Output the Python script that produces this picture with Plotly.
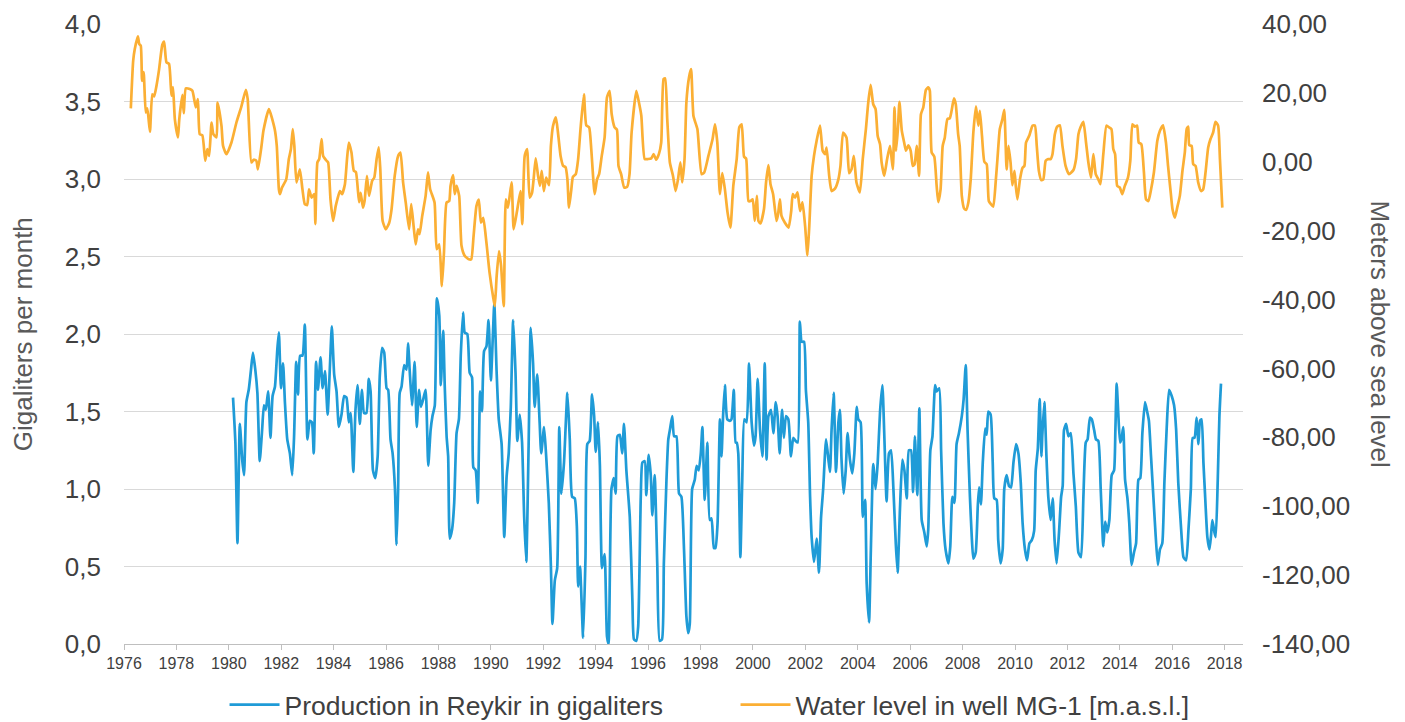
import plotly.graph_objects as go

# ---- Production in Reykir (gigaliters per month), decimal years ----
prod_year = [
    1980.16, 1980.25, 1980.33, 1980.42, 1980.51, 1980.58, 1980.67, 1980.76, 1980.84, 1980.92,
    1981.01, 1981.09, 1981.18, 1981.27, 1981.34, 1981.41, 1981.50, 1981.59, 1981.67, 1981.76,
    1981.85, 1981.91, 1981.99, 1982.07, 1982.14, 1982.23, 1982.33, 1982.42, 1982.49, 1982.57,
    1982.64, 1982.72, 1982.81, 1982.90, 1983.00, 1983.09, 1983.17, 1983.24, 1983.33, 1983.40,
    1983.50, 1983.58, 1983.67, 1983.77, 1983.86, 1983.93, 1984.02, 1984.11, 1984.20, 1984.30,
    1984.40, 1984.49, 1984.58, 1984.65, 1984.75, 1984.83, 1984.91, 1985.00, 1985.08, 1985.16,
    1985.25, 1985.34, 1985.41, 1985.50, 1985.59, 1985.68, 1985.76, 1985.85, 1985.93, 1986.02,
    1986.08, 1986.17, 1986.25, 1986.34, 1986.40, 1986.46, 1986.52, 1986.59, 1986.69, 1986.78,
    1986.84, 1986.90, 1986.99, 1987.09, 1987.17, 1987.26, 1987.33, 1987.42, 1987.51, 1987.61,
    1987.70, 1987.77, 1987.86, 1987.94, 1988.03, 1988.09, 1988.18, 1988.24, 1988.31, 1988.37,
    1988.43, 1988.52, 1988.60, 1988.69, 1988.78, 1988.85, 1988.94, 1989.00, 1989.10, 1989.19,
    1989.28, 1989.33, 1989.42, 1989.50, 1989.59, 1989.66, 1989.74, 1989.83, 1989.91, 1990.00,
    1990.08, 1990.13, 1990.22, 1990.30, 1990.41, 1990.51, 1990.60, 1990.68, 1990.76, 1990.85,
    1990.94, 1991.01, 1991.10, 1991.19, 1991.27, 1991.35, 1991.44, 1991.52, 1991.61, 1991.67,
    1991.77, 1991.86, 1991.92, 1992.03, 1992.11, 1992.21, 1992.29, 1992.35, 1992.44, 1992.53,
    1992.61, 1992.69, 1992.79, 1992.92, 1993.01, 1993.10, 1993.20, 1993.28, 1993.33, 1993.40,
    1993.52, 1993.61, 1993.68, 1993.77, 1993.86, 1993.94, 1994.00, 1994.09, 1994.16, 1994.24,
    1994.34, 1994.43, 1994.49, 1994.60, 1994.69, 1994.76, 1994.83, 1994.92, 1995.01, 1995.08,
    1995.17, 1995.30, 1995.40, 1995.46, 1995.55, 1995.62, 1995.72, 1995.78, 1995.87, 1995.93,
    1996.02, 1996.10, 1996.16, 1996.25, 1996.35, 1996.44, 1996.53, 1996.60, 1996.70, 1996.77,
    1996.84, 1996.92, 1996.99, 1997.08, 1997.18, 1997.27, 1997.37, 1997.46, 1997.53, 1997.59,
    1997.68, 1997.78, 1997.85, 1997.93, 1998.01, 1998.07, 1998.16, 1998.26, 1998.35, 1998.42,
    1998.51, 1998.57, 1998.65, 1998.74, 1998.80, 1998.86, 1998.93, 1999.02, 1999.12, 1999.18,
    1999.27, 1999.34, 1999.38, 1999.44, 1999.52, 1999.59, 1999.67, 1999.76, 1999.85, 1999.95,
    2000.04, 2000.10, 2000.18, 2000.27, 2000.36, 2000.45, 2000.52, 2000.59, 2000.69, 2000.78,
    2000.87, 2000.94, 2001.02, 2001.11, 2001.18, 2001.26, 2001.35, 2001.45, 2001.54, 2001.63,
    2001.71, 2001.79, 2001.86, 2001.95, 2002.02, 2002.11, 2002.18, 2002.24, 2002.33, 2002.43,
    2002.52, 2002.60, 2002.68, 2002.79, 2002.88, 2002.94, 2003.00, 2003.08, 2003.17, 2003.26,
    2003.32, 2003.38, 2003.46, 2003.54, 2003.61, 2003.70, 2003.79, 2003.87, 2003.96, 2004.02,
    2004.11, 2004.19, 2004.28, 2004.34, 2004.43, 2004.50, 2004.59, 2004.68, 2004.76, 2004.85,
    2004.94, 2005.01, 2005.10, 2005.19, 2005.27, 2005.36, 2005.45, 2005.52, 2005.61, 2005.70,
    2005.78, 2005.87, 2005.95, 2006.03, 2006.11, 2006.18, 2006.27, 2006.35, 2006.44, 2006.54,
    2006.63, 2006.69, 2006.77, 2006.85, 2006.95, 2007.01, 2007.11, 2007.18, 2007.27, 2007.35,
    2007.46, 2007.53, 2007.61, 2007.69, 2007.77, 2007.86, 2007.97, 2008.04, 2008.12, 2008.19,
    2008.28, 2008.35, 2008.41, 2008.50, 2008.58, 2008.63, 2008.70, 2008.77, 2008.86, 2008.92,
    2008.98, 2009.07, 2009.15, 2009.21, 2009.30, 2009.36, 2009.45, 2009.53, 2009.59, 2009.68,
    2009.77, 2009.85, 2009.94, 2010.04, 2010.13, 2010.22, 2010.29, 2010.38, 2010.46, 2010.55,
    2010.64, 2010.73, 2010.79, 2010.87, 2010.94, 2011.01, 2011.04, 2011.12, 2011.20, 2011.27,
    2011.36, 2011.44, 2011.51, 2011.59, 2011.68, 2011.76, 2011.82, 2011.87, 2011.95, 2012.04,
    2012.13, 2012.23, 2012.32, 2012.42, 2012.52, 2012.61, 2012.70, 2012.77, 2012.86, 2012.93,
    2013.02, 2013.09, 2013.18, 2013.27, 2013.37, 2013.44, 2013.52, 2013.60, 2013.69, 2013.78,
    2013.83, 2013.88, 2013.94, 2014.01, 2014.07, 2014.13, 2014.20, 2014.29, 2014.36, 2014.45,
    2014.54, 2014.62, 2014.71, 2014.78, 2014.86, 2014.96, 2015.04, 2015.11, 2015.19, 2015.28,
    2015.36, 2015.45, 2015.53, 2015.62, 2015.70, 2015.79, 2015.88, 2015.98, 2016.07, 2016.15,
    2016.23, 2016.34, 2016.43, 2016.53, 2016.62, 2016.71, 2016.78, 2016.85, 2016.93, 2017.00,
    2017.06, 2017.12, 2017.19, 2017.25, 2017.34, 2017.42, 2017.48, 2017.53, 2017.61, 2017.66,
    2017.74, 2017.80, 2017.86,
]
prod_gl = [
    1.59, 1.30, 0.65, 1.42, 1.19, 1.09, 1.56, 1.64, 1.76, 1.88,
    1.77, 1.62, 1.18, 1.38, 1.54, 1.51, 1.63, 1.33, 1.60, 1.66,
    1.90, 2.01, 1.65, 1.81, 1.56, 1.32, 1.23, 1.09, 1.34, 1.82,
    1.61, 1.86, 1.86, 2.06, 1.32, 1.44, 1.43, 1.23, 1.82, 1.64,
    1.85, 1.65, 1.76, 1.48, 1.80, 2.05, 1.74, 1.63, 1.40, 1.48,
    1.60, 1.59, 1.43, 1.49, 1.11, 1.50, 1.67, 1.42, 1.64, 1.49,
    1.49, 1.71, 1.63, 1.12, 1.07, 1.21, 1.73, 1.91, 1.88, 1.65,
    1.64, 1.32, 1.23, 1.00, 0.64, 1.00, 1.62, 1.66, 1.80, 1.77,
    1.94, 1.77, 1.54, 1.82, 1.40, 1.64, 1.53, 1.58, 1.64, 1.15,
    1.38, 1.47, 1.54, 2.23, 2.12, 1.67, 2.02, 1.66, 1.34, 1.21,
    0.68, 0.74, 0.91, 1.36, 1.45, 1.86, 2.14, 2.01, 2.00, 1.75,
    1.72, 1.14, 1.12, 0.91, 1.63, 1.50, 1.89, 1.92, 2.09, 1.70,
    2.01, 2.20, 1.75, 1.45, 1.29, 0.69, 1.08, 1.23, 1.53, 2.09,
    1.75, 1.31, 1.48, 1.30, 0.82, 0.53, 1.28, 2.04, 1.81, 1.53,
    1.74, 1.43, 1.23, 1.40, 1.21, 0.91, 0.50, 0.13, 0.41, 0.49,
    1.40, 0.97, 1.17, 1.62, 1.32, 0.95, 0.94, 0.76, 0.37, 0.50,
    0.04, 0.56, 1.29, 1.31, 1.61, 1.47, 1.24, 1.43, 1.15, 0.49,
    0.58, 0.05, 0.00, 1.00, 1.07, 0.97, 1.34, 1.35, 1.23, 1.42,
    1.12, 0.82, 0.28, 0.03, 0.02, 0.11, 0.95, 1.17, 1.18, 0.96,
    1.22, 1.09, 0.83, 1.09, 0.51, 0.02, 0.03, 0.52, 1.06, 1.32,
    1.39, 1.47, 1.34, 1.34, 0.97, 0.95, 0.61, 0.18, 0.07, 0.13,
    1.00, 1.06, 1.15, 1.12, 1.23, 1.40, 0.93, 1.30, 0.80, 0.81,
    0.62, 0.62, 0.78, 1.45, 1.21, 1.47, 1.67, 1.45, 1.44, 1.45,
    1.64, 1.30, 1.30, 1.23, 0.56, 1.04, 1.45, 1.43, 1.81, 1.43,
    1.28, 1.34, 1.71, 1.38, 1.21, 1.81, 1.19, 1.47, 1.51, 1.36,
    1.56, 1.47, 1.23, 1.51, 1.33, 1.47, 1.45, 1.21, 1.33, 1.31,
    1.30, 2.08, 1.95, 1.95, 1.64, 1.43, 0.95, 0.69, 0.53, 0.68,
    0.46, 0.82, 1.00, 1.32, 1.19, 1.11, 1.38, 1.62, 1.11, 1.43,
    1.51, 1.19, 0.97, 1.12, 1.36, 1.19, 1.10, 1.23, 1.53, 1.45,
    1.43, 0.82, 0.93, 0.39, 0.14, 0.61, 1.16, 1.00, 1.17, 1.50,
    1.67, 1.36, 0.92, 1.23, 1.25, 1.00, 0.65, 0.46, 0.87, 1.19,
    1.12, 0.94, 1.25, 1.25, 0.98, 1.34, 0.96, 1.52, 0.80, 0.72,
    0.63, 0.74, 1.25, 1.34, 1.67, 1.63, 1.65, 1.25, 0.78, 0.61,
    0.52, 0.63, 0.95, 0.91, 1.29, 1.36, 1.47, 1.58, 1.80, 1.38,
    0.95, 0.69, 0.55, 0.59, 0.89, 1.01, 0.90, 1.17, 1.39, 1.35,
    1.50, 1.48, 1.17, 0.94, 0.93, 0.67, 0.52, 0.61, 1.00, 1.09,
    1.02, 1.01, 1.17, 1.29, 1.23, 1.04, 0.78, 0.61, 0.54, 0.65,
    0.67, 0.73, 1.12, 1.26, 1.58, 1.21, 1.34, 1.56, 1.21, 0.95,
    0.80, 0.94, 0.67, 0.52, 0.72, 0.95, 1.02, 1.38, 1.42, 1.34,
    1.36, 1.10, 0.89, 0.59, 0.56, 0.95, 1.30, 1.32, 1.46, 1.45,
    1.38, 1.32, 1.31, 1.00, 0.63, 0.79, 0.72, 0.80, 1.09, 1.12,
    1.38, 1.68, 1.49, 1.30, 1.33, 1.40, 1.06, 0.94, 0.78, 0.51,
    0.59, 0.65, 1.06, 1.07, 1.36, 1.56, 1.50, 1.44, 1.21, 0.95,
    0.72, 0.51, 0.61, 0.65, 1.04, 1.40, 1.64, 1.60, 1.54, 1.38,
    1.04, 0.74, 0.56, 0.54, 0.74, 1.00, 1.33, 1.33, 1.46, 1.29,
    1.44, 1.45, 1.17, 0.97, 0.69, 0.61, 0.70, 0.80, 0.72, 0.69,
    1.08, 1.47, 1.68,
]

# ---- Water level in well MG-1 (m a.s.l.), decimal years ----
level_year = [
    1976.26, 1976.35, 1976.41, 1976.53, 1976.58, 1976.64, 1976.69, 1976.75, 1976.83, 1976.89,
    1976.99, 1977.08, 1977.15, 1977.24, 1977.34, 1977.46, 1977.53, 1977.62, 1977.72, 1977.81,
    1977.87, 1977.94, 1978.06, 1978.11, 1978.23, 1978.28, 1978.36, 1978.51, 1978.61, 1978.74,
    1978.82, 1978.89, 1978.99, 1979.10, 1979.18, 1979.25, 1979.34, 1979.41, 1979.53, 1979.57,
    1979.72, 1979.78, 1979.91, 1980.10, 1980.29, 1980.48, 1980.65, 1980.72, 1980.86, 1980.95,
    1981.05, 1981.11, 1981.24, 1981.32, 1981.53, 1981.75, 1981.83, 1981.91, 1981.95, 1982.03,
    1982.19, 1982.29, 1982.37, 1982.44, 1982.50, 1982.58, 1982.71, 1982.81, 1982.90, 1982.99,
    1983.06, 1983.16, 1983.26, 1983.30, 1983.38, 1983.45, 1983.54, 1983.60, 1983.73, 1983.79,
    1983.88, 1983.98, 1984.08, 1984.24, 1984.32, 1984.43, 1984.51, 1984.58, 1984.68, 1984.77,
    1984.85, 1984.97, 1985.03, 1985.12, 1985.18, 1985.27, 1985.35, 1985.47, 1985.55, 1985.64,
    1985.72, 1985.78, 1985.87, 1985.99, 1986.12, 1986.21, 1986.33, 1986.46, 1986.55, 1986.65,
    1986.75, 1986.88, 1986.96, 1987.05, 1987.13, 1987.22, 1987.28, 1987.38, 1987.51, 1987.60,
    1987.68, 1987.85, 1987.93, 1988.03, 1988.13, 1988.21, 1988.31, 1988.41, 1988.46, 1988.56,
    1988.62, 1988.69, 1988.79, 1988.88, 1989.00, 1989.16, 1989.25, 1989.34, 1989.45, 1989.54,
    1989.62, 1989.71, 1989.83, 1989.95, 1990.09, 1990.15, 1990.22, 1990.31, 1990.39, 1990.49,
    1990.57, 1990.65, 1990.79, 1990.87, 1991.00, 1991.13, 1991.20, 1991.29, 1991.38, 1991.48,
    1991.57, 1991.63, 1991.71, 1991.80, 1991.87, 1991.94, 1992.02, 1992.11, 1992.22, 1992.29,
    1992.37, 1992.48, 1992.56, 1992.66, 1992.76, 1992.85, 1992.92, 1992.98, 1993.07, 1993.13,
    1993.24, 1993.33, 1993.42, 1993.55, 1993.64, 1993.75, 1993.83, 1993.96, 1994.05, 1994.13,
    1994.23, 1994.34, 1994.43, 1994.53, 1994.61, 1994.72, 1994.81, 1994.87, 1994.97, 1995.09,
    1995.20, 1995.29, 1995.37, 1995.55, 1995.65, 1995.74, 1995.87, 1996.00, 1996.12, 1996.21,
    1996.31, 1996.41, 1996.50, 1996.59, 1996.65, 1996.73, 1996.83, 1996.95, 1997.05, 1997.14,
    1997.23, 1997.30, 1997.39, 1997.46, 1997.56, 1997.64, 1997.73, 1997.88, 1998.04, 1998.14,
    1998.30, 1998.46, 1998.55, 1998.64, 1998.74, 1998.83, 1998.93, 1999.03, 1999.14, 1999.25,
    1999.38, 1999.48, 1999.57, 1999.66, 1999.74, 1999.83, 1999.91, 1999.99, 2000.07, 2000.15,
    2000.21, 2000.29, 2000.42, 2000.50, 2000.59, 2000.67, 2000.77, 2000.90, 2000.96, 2001.03,
    2001.09, 2001.22, 2001.36, 2001.46, 2001.52, 2001.61, 2001.70, 2001.80, 2001.89, 2001.99,
    2002.08, 2002.15, 2002.24, 2002.33, 2002.43, 2002.56, 2002.66, 2002.75, 2002.81, 2002.91,
    2003.00, 2003.13, 2003.26, 2003.34, 2003.44, 2003.57, 2003.67, 2003.76, 2003.85, 2003.95,
    2004.08, 2004.19, 2004.31, 2004.40, 2004.49, 2004.59, 2004.68, 2004.76, 2004.85, 2004.91,
    2005.01, 2005.12, 2005.23, 2005.34, 2005.40, 2005.46, 2005.53, 2005.59, 2005.68, 2005.77,
    2005.84, 2005.93, 2006.02, 2006.10, 2006.17, 2006.25, 2006.34, 2006.41, 2006.50, 2006.60,
    2006.69, 2006.75, 2006.82, 2006.92, 2007.01, 2007.07, 2007.16, 2007.24, 2007.32, 2007.42,
    2007.51, 2007.58, 2007.67, 2007.74, 2007.83, 2007.89, 2007.97, 2008.06, 2008.13, 2008.22,
    2008.31, 2008.41, 2008.51, 2008.60, 2008.66, 2008.74, 2008.83, 2008.92, 2009.00, 2009.08,
    2009.17, 2009.27, 2009.33, 2009.42, 2009.52, 2009.59, 2009.68, 2009.75, 2009.83, 2009.90,
    2009.98, 2010.03, 2010.09, 2010.19, 2010.29, 2010.36, 2010.42, 2010.55, 2010.67, 2010.76,
    2010.83, 2010.91, 2011.00, 2011.08, 2011.17, 2011.27, 2011.36, 2011.43, 2011.52, 2011.61,
    2011.71, 2011.81, 2011.93, 2012.06, 2012.23, 2012.33, 2012.42, 2012.50, 2012.61, 2012.71,
    2012.80, 2012.90, 2012.99, 2013.08, 2013.18, 2013.26, 2013.37, 2013.49, 2013.59, 2013.68,
    2013.75, 2013.82, 2013.90, 2014.00, 2014.09, 2014.19, 2014.31, 2014.40, 2014.48, 2014.57,
    2014.66, 2014.72, 2014.82, 2014.92, 2015.00, 2015.09, 2015.17, 2015.30, 2015.43, 2015.53,
    2015.65, 2015.76, 2015.84, 2015.93, 2016.01, 2016.10, 2016.19, 2016.29, 2016.39, 2016.48,
    2016.55, 2016.61, 2016.65, 2016.74, 2016.80, 2016.89, 2016.99, 2017.10, 2017.18, 2017.27,
    2017.37, 2017.46, 2017.56, 2017.65, 2017.75, 2017.82, 2017.91,
]
level_m = [
    15.5, 29.3, 32.7, 36.4, 34.2, 33.7, 23.5, 26.0, 14.3, 15.5,
    8.7, 19.6, 19.0, 22.1, 26.9, 33.9, 34.9, 28.9, 28.4, 19.2,
    21.6, 12.4, 7.1, 12.4, 19.4, 14.1, 21.3, 21.1, 20.6, 15.8,
    18.2, 8.0, 7.7, 0.3, 3.7, 1.7, 11.4, 8.0, 7.1, 17.2,
    10.4, 4.6, 2.2, 5.6, 11.4, 16.1, 20.9, 18.2, -0.2, 0.6,
    0.3, -2.2, 4.2, 9.0, 15.3, 9.5, 4.6, -8.0, -9.4, -7.5,
    -5.1, 0.8, 3.7, 9.5, 4.6, -6.0, -2.2, -8.0, -12.3, -12.6,
    -8.0, -10.4, -9.4, -18.1, -0.2, 0.8, 6.6, 1.7, 0.3, -0.2,
    -10.9, -17.2, -12.8, -8.5, -9.4, -6.5, 0.8, 5.6, 2.7, -2.6,
    -3.0, -11.7, -9.0, -13.3, -11.4, -4.1, -9.9, -5.5, -4.6, 0.8,
    4.2, -2.2, -17.2, -19.6, -17.7, -13.8, -4.1, 1.7, 2.7, -6.0,
    -11.8, -19.6, -12.3, -18.6, -24.0, -19.6, -21.0, -15.7, -9.9, -3.1,
    -7.9, -11.8, -25.4, -24.0, -36.1, -26.3, -11.8, -11.4, -7.0, -3.9,
    -9.4, -7.0, -9.9, -24.4, -27.3, -28.3, -28.3, -21.5, -12.8, -11.0,
    -17.7, -16.3, -23.5, -32.2, -39.5, -41.9, -33.2, -25.9, -30.3, -41.9,
    -10.9, -13.3, -6.0, -19.6, -14.2, -8.5, -18.1, 1.7, 3.7, -10.4,
    -9.0, -5.1, 1.0, -4.1, -7.0, -2.6, -8.5, -4.6, -6.8, 4.6,
    10.4, 12.9, 8.5, 1.7, -1.2, -1.6, -5.1, -13.3, -8.0, -4.4,
    -3.6, 0.8, 9.5, 19.6, 10.6, 10.0, 3.7, -9.4, -5.1, -3.6,
    1.7, 7.1, 18.7, 20.6, 13.8, 10.0, 9.3, -1.2, -3.6, -7.5,
    -7.3, -3.6, 8.5, 20.6, 17.2, 13.4, 0.8, 0.8, 1.0, 2.2,
    0.6, 2.2, 5.6, 24.0, 24.2, 12.4, -0.2, -4.1, -8.5, -5.1,
    -0.2, -6.0, 0.8, 17.2, 24.5, 26.9, 13.3, 9.5, -3.6, -3.1,
    1.7, 6.6, 10.9, 5.6, -9.4, -3.3, -8.0, -14.7, -19.1, -7.0,
    0.8, 10.0, 10.9, 1.5, 0.9, -11.4, -11.4, -10.9, -17.2, -9.9,
    -17.2, -17.9, -13.8, -6.0, -1.0, -6.5, -9.4, -17.2, -15.2, -10.9,
    -15.7, -17.7, -19.1, -14.3, -9.4, -10.4, -8.9, -14.3, -11.8, -18.6,
    -27.2, -18.6, -4.1, 1.7, 6.1, 10.5, 3.2, 2.2, 4.1, -4.1,
    -8.5, -7.8, -5.1, -1.2, 8.5, 7.0, -3.3, -2.2, 1.7, -6.0,
    -8.9, 0.8, 9.5, 17.2, 22.3, 16.7, 15.3, 7.5, 5.1, -0.2,
    -4.1, 0.8, 4.6, -2.2, 15.8, 3.2, 9.5, 17.4, 9.0, 5.6,
    3.2, 4.8, 3.2, -1.2, -0.7, 4.6, -4.1, 13.8, 15.8, 20.9,
    21.6, 20.6, 2.7, 1.5, -7.0, -11.7, -8.0, 4.6, 7.0, 12.4,
    12.6, 14.8, 18.4, 16.7, 8.0, 4.6, -9.9, -13.6, -14.0, -11.8,
    -5.1, 8.5, 16.1, 10.5, 14.8, 7.5, 0.0, -0.7, -11.4, -12.3,
    -13.0, -5.1, 0.8, 9.5, 12.4, 15.1, -2.2, 4.6, -0.2, -6.8,
    -2.6, -7.0, -10.9, -5.1, -1.7, -1.2, 5.6, 7.7, 10.5, 10.5,
    4.6, -2.6, -5.3, -5.1, 0.3, 0.8, 0.8, 2.2, 8.0, 10.2,
    10.6, 4.6, -1.2, -3.6, -2.4, 0.8, 8.0, 10.0, 11.6, 5.6,
    -0.2, -4.6, 2.2, -3.6, -5.1, -6.5, 2.2, 10.5, 10.0, 9.5,
    3.7, 2.2, -7.0, -7.5, -9.4, -7.0, -4.6, 0.3, 10.9, 10.2,
    10.5, 5.6, 5.1, -3.1, -10.9, -11.4, -8.9, -3.1, 6.1, 9.0,
    10.6, 5.6, -1.2, -8.0, -13.8, -16.2, -13.3, -9.9, -2.6, 2.7,
    9.5, 10.2, 4.8, 4.6, -0.7, -1.2, -6.0, -8.5, -8.0, -3.1,
    4.1, 6.6, 8.5, 11.6, 10.5, 0.8, -13.3,
]

# ---- Axis ticks ----
year_ticks = list(range(1976, 2019, 2))
left_ticks = [0.0, 0.5, 1.0, 1.5, 2.0, 2.5, 3.0, 3.5, 4.0]
left_labels = ["0,0", "0,5", "1,0", "1,5", "2,0", "2,5", "3,0", "3,5", "4,0"]
right_ticks = [-140, -120, -100, -80, -60, -40, -20, 0, 20, 40]
right_labels = ["-140,00", "-120,00", "-100,00", "-80,00", "-60,00", "-40,00",
                "-20,00", "0,00", "20,00", "40,00"]

BLUE = "#1F9BD7"
ORANGE = "#FBAF34"
FONT = "Liberation Sans, Arial, sans-serif"

fig = go.Figure()
fig.add_trace(go.Scatter(
    x=prod_year, y=prod_gl, mode="lines", name="Production in Reykir in gigaliters",
    line=dict(color=BLUE, width=2.7, shape="spline", smoothing=0.5), yaxis="y",
))
fig.add_trace(go.Scatter(
    x=level_year, y=level_m, mode="lines", name="Water level in well MG-1 [m.a.s.l.]",
    line=dict(color=ORANGE, width=2.7, shape="spline", smoothing=0.5), yaxis="y2",
))

fig.update_layout(
    width=1397, height=714,
    margin=dict(l=116, r=162, t=16, b=78, autoexpand=False),
    paper_bgcolor="white", plot_bgcolor="white",
    font=dict(family=FONT, color="#404040"),
    showlegend=True,
    legend=dict(
        orientation="h", xref="container", x=0.155, xanchor="left",
        yref="container", y=0.024, yanchor="middle",
        font=dict(size=26.5, color="#404040"),
        entrywidth=446, entrywidthmode="pixels", itemwidth=50, tracegroupgap=0,
    ),
    xaxis=dict(
        range=[1976, 2018.7], tickvals=year_ticks, ticktext=[str(v) for v in year_ticks],
        showgrid=False, zeroline=False, showline=True, linecolor="#BFBFBF", linewidth=1,
        ticks="outside", ticklen=5, tickcolor="#BFBFBF",
        tickfont=dict(size=16, color="#404040"),
    ),
    yaxis=dict(
        range=[0, 4], tickvals=left_ticks, ticktext=left_labels,
        showgrid=True, gridcolor="#D9D9D9", gridwidth=1, zeroline=False, showline=False,
        tickfont=dict(size=26, color="#404040"), ticks="", ticklabelstandoff=22,
    ),
    yaxis2=dict(
        range=[-140, 40], tickvals=right_ticks, ticktext=right_labels,
        overlaying="y", side="right", showgrid=False, zeroline=False, showline=False,
        tickfont=dict(size=26, color="#404040"), ticks="", ticklabelstandoff=18,
    ),
    annotations=[
        dict(text="Gigaliters per month", xref="paper", yref="paper", x=-0.0900, y=0.5,
             xanchor="center", yanchor="middle", textangle=-90, showarrow=False,
             font=dict(size=26, color="#595959")),
        dict(text="Meters above sea level", xref="paper", yref="paper", x=1.122, y=0.5,
             xanchor="center", yanchor="middle", textangle=90, showarrow=False,
             font=dict(size=26, color="#595959")),
    ],
)

fig.write_html("out.html")
